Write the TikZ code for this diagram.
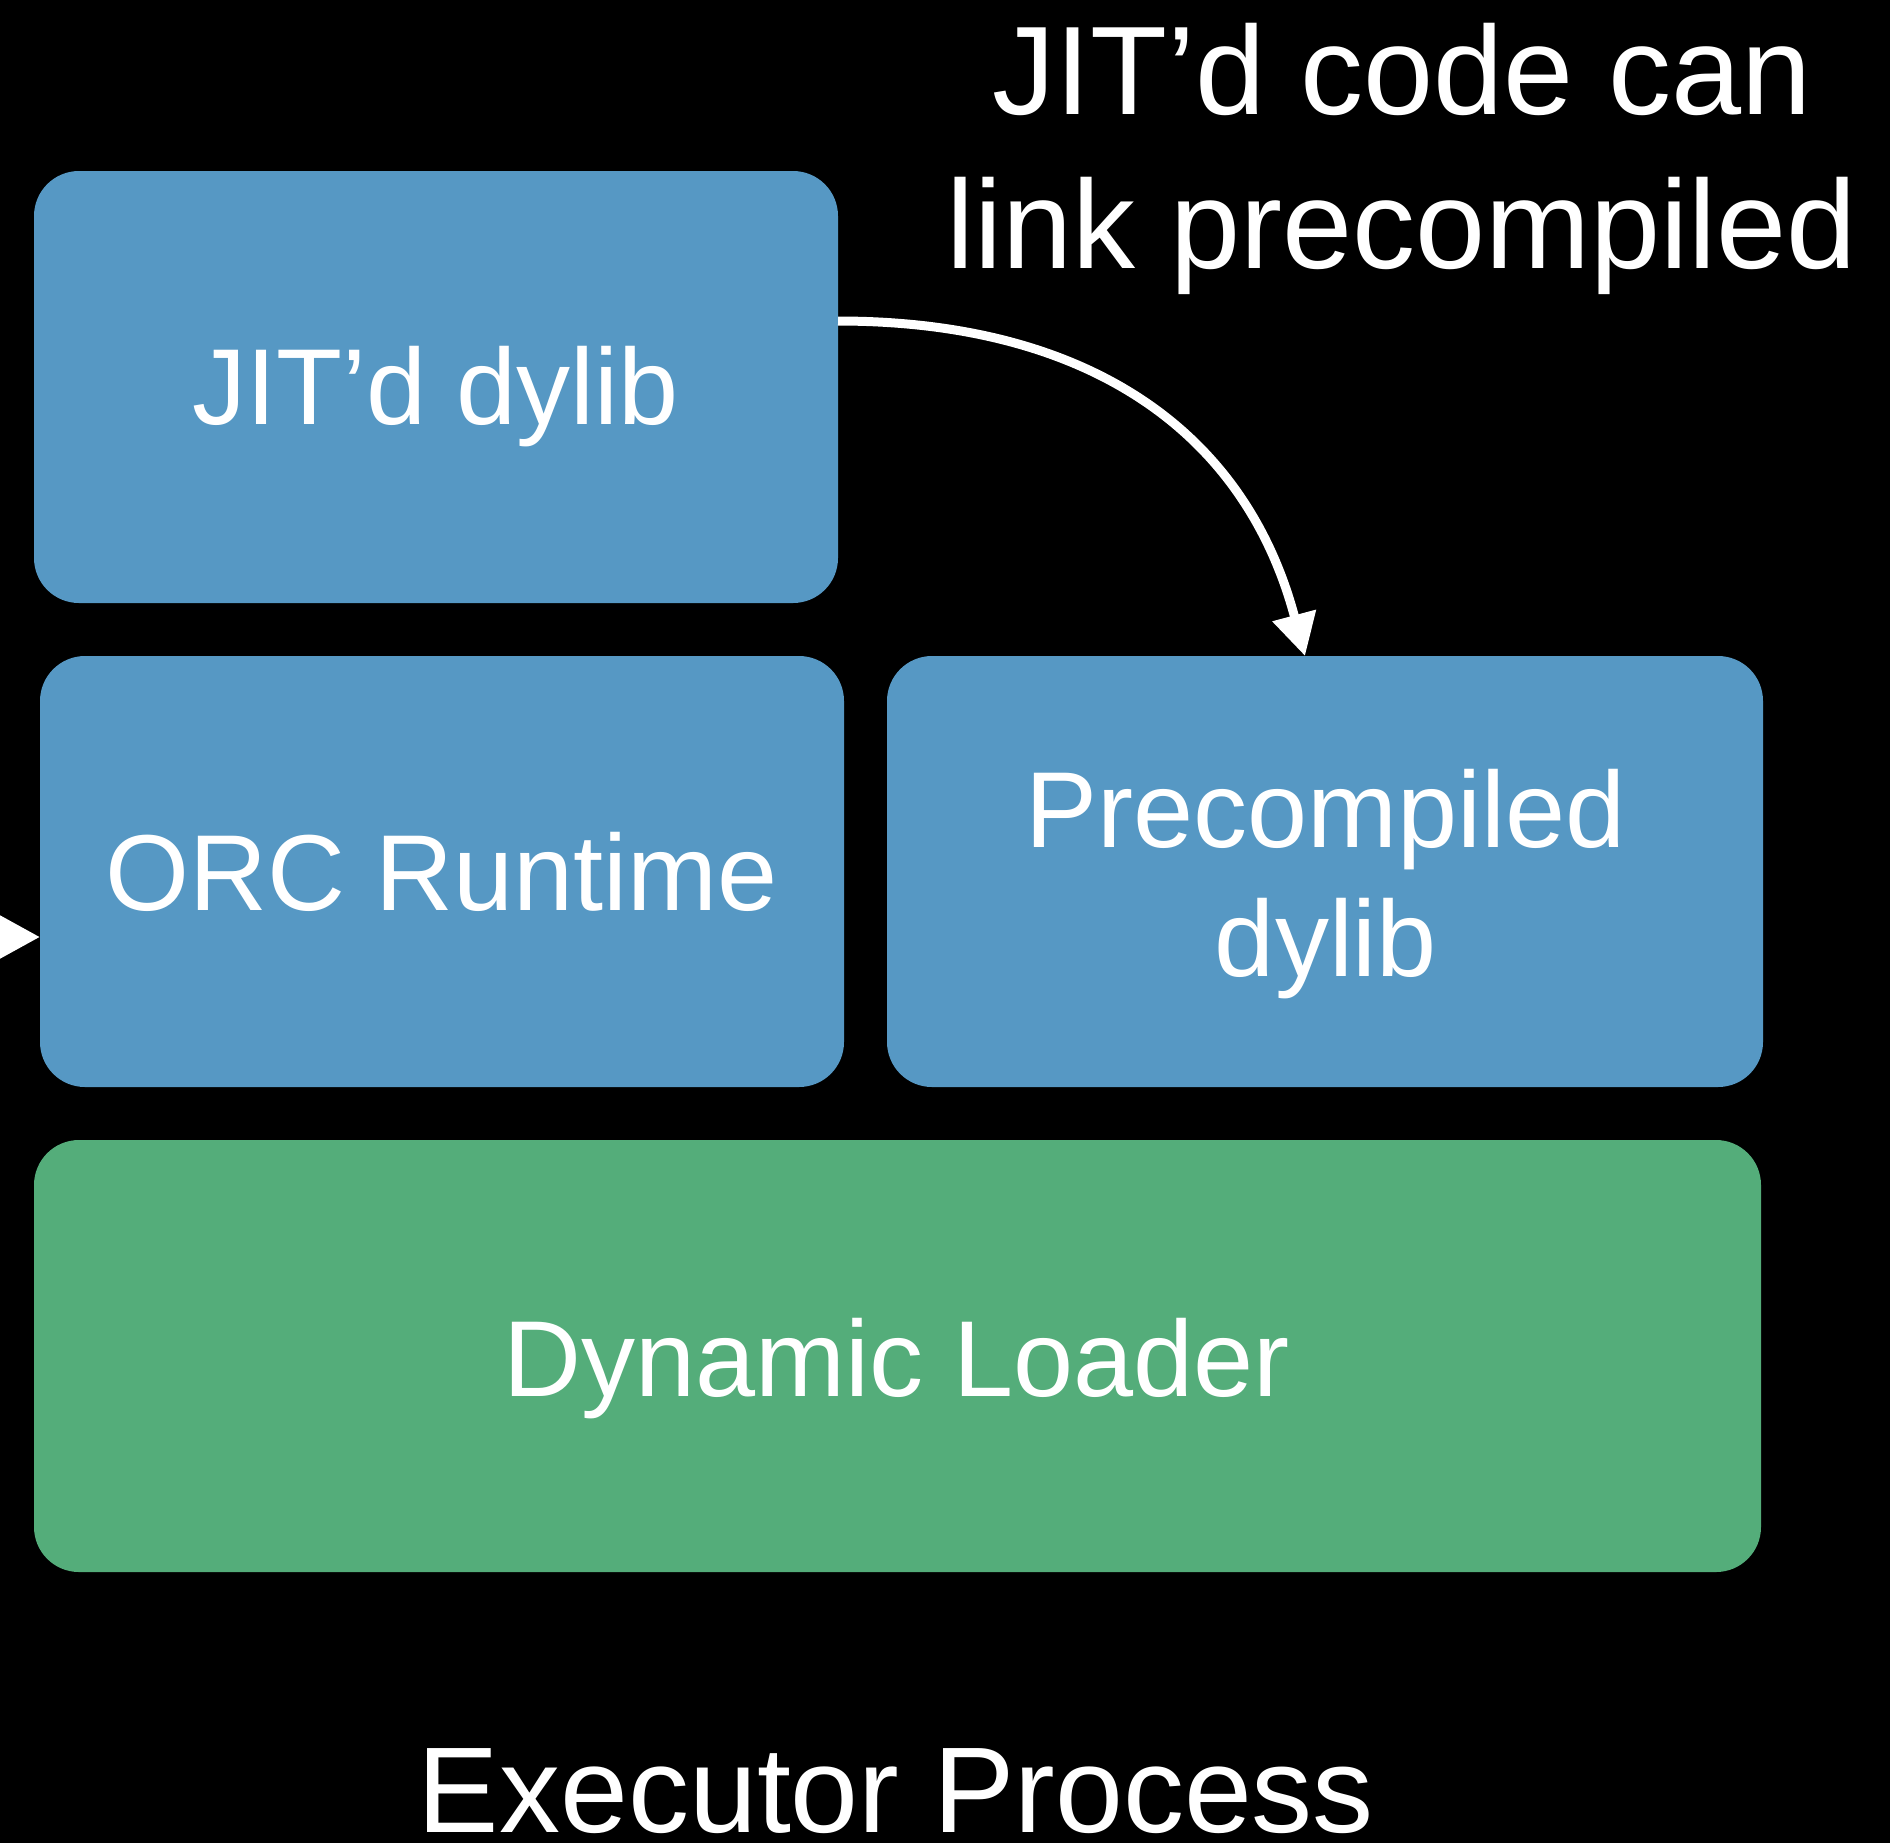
\documentclass[tikz,border=0pt]{standalone}
\usepackage{fontspec}
\setmainfont{Liberation Sans}
\usetikzlibrary{arrows.meta,calc}
\definecolor{layerblue}{HTML}{5698C4}
\definecolor{layergreen}{HTML}{54AD7A}
\tikzset{
  layer/.style={rounded corners=22.5pt, inner sep=0pt, outer sep=0pt},
  bluelayer/.style={layer, fill=layerblue},
  greenlayer/.style={layer, fill=layergreen},
  boxtext/.style={text=white, anchor=base, inner sep=0pt, font=\fontsize{54pt}{64pt}\selectfont},
  headtext/.style={text=white, anchor=base, inner sep=0pt, font=\fontsize{63pt}{76pt}\selectfont},
  foottext/.style={text=white, anchor=base, inner sep=0pt, font=\fontsize{61pt}{74pt}\selectfont},
  link/.style={draw=white, line width=4.5pt, -{Triangle[length=21pt,width=21.5pt]}},
}
\begin{document}
\begin{tikzpicture}[x=0.5pt,y=-0.5pt]
  \useasboundingbox (0,0) rectangle (1890,1843);
  \clip (0,0) rectangle (1890,1843);
  \fill[black] (0,0) rectangle (1890,1843);

  % layers
  \node[bluelayer, minimum width=402pt, minimum height=216pt] (jit) at (436,387) {};
  \node[bluelayer, minimum width=402pt, minimum height=215.5pt] (orc) at (442,871.5) {};
  \node[bluelayer, minimum width=438pt, minimum height=215.5pt] (pre) at (1325,871.5) {};
  \node[greenlayer, minimum width=863.5pt, minimum height=216pt] (dyn) at (897.5,1356) {};

  % layer labels
  \node[boxtext] (jitlabel) at (436,424) {JIT’d dylib};
  \node[boxtext] (orclabel) at (442,910) {ORC Runtime};
  \node[boxtext] (prelabelA) at (1326,847) {Precompiled};
  \node[boxtext] (prelabelB) at (1326,976) {dylib};
  \node[boxtext] (dynlabel) at (897,1396) {Dynamic Loader};

  % headline and caption
  \node[headtext] (headA) at (1402,114) {JIT’d code can};
  \node[headtext] (headB) at (1402,268) {link precompiled};
  \node[foottext] (foot) at (896,1832) {Executor Process};

  % connectors
  \draw[link] ($(jit.east)+(0,-66)$) .. controls (1088,321) and (1245,431) .. ($(pre.north)+(-20,0)$);
  \coordinate (incoming) at (-120,937);
  \draw[link] (incoming) -- ($(orc.west)+(0,65.5)$);
\end{tikzpicture}
\end{document}
